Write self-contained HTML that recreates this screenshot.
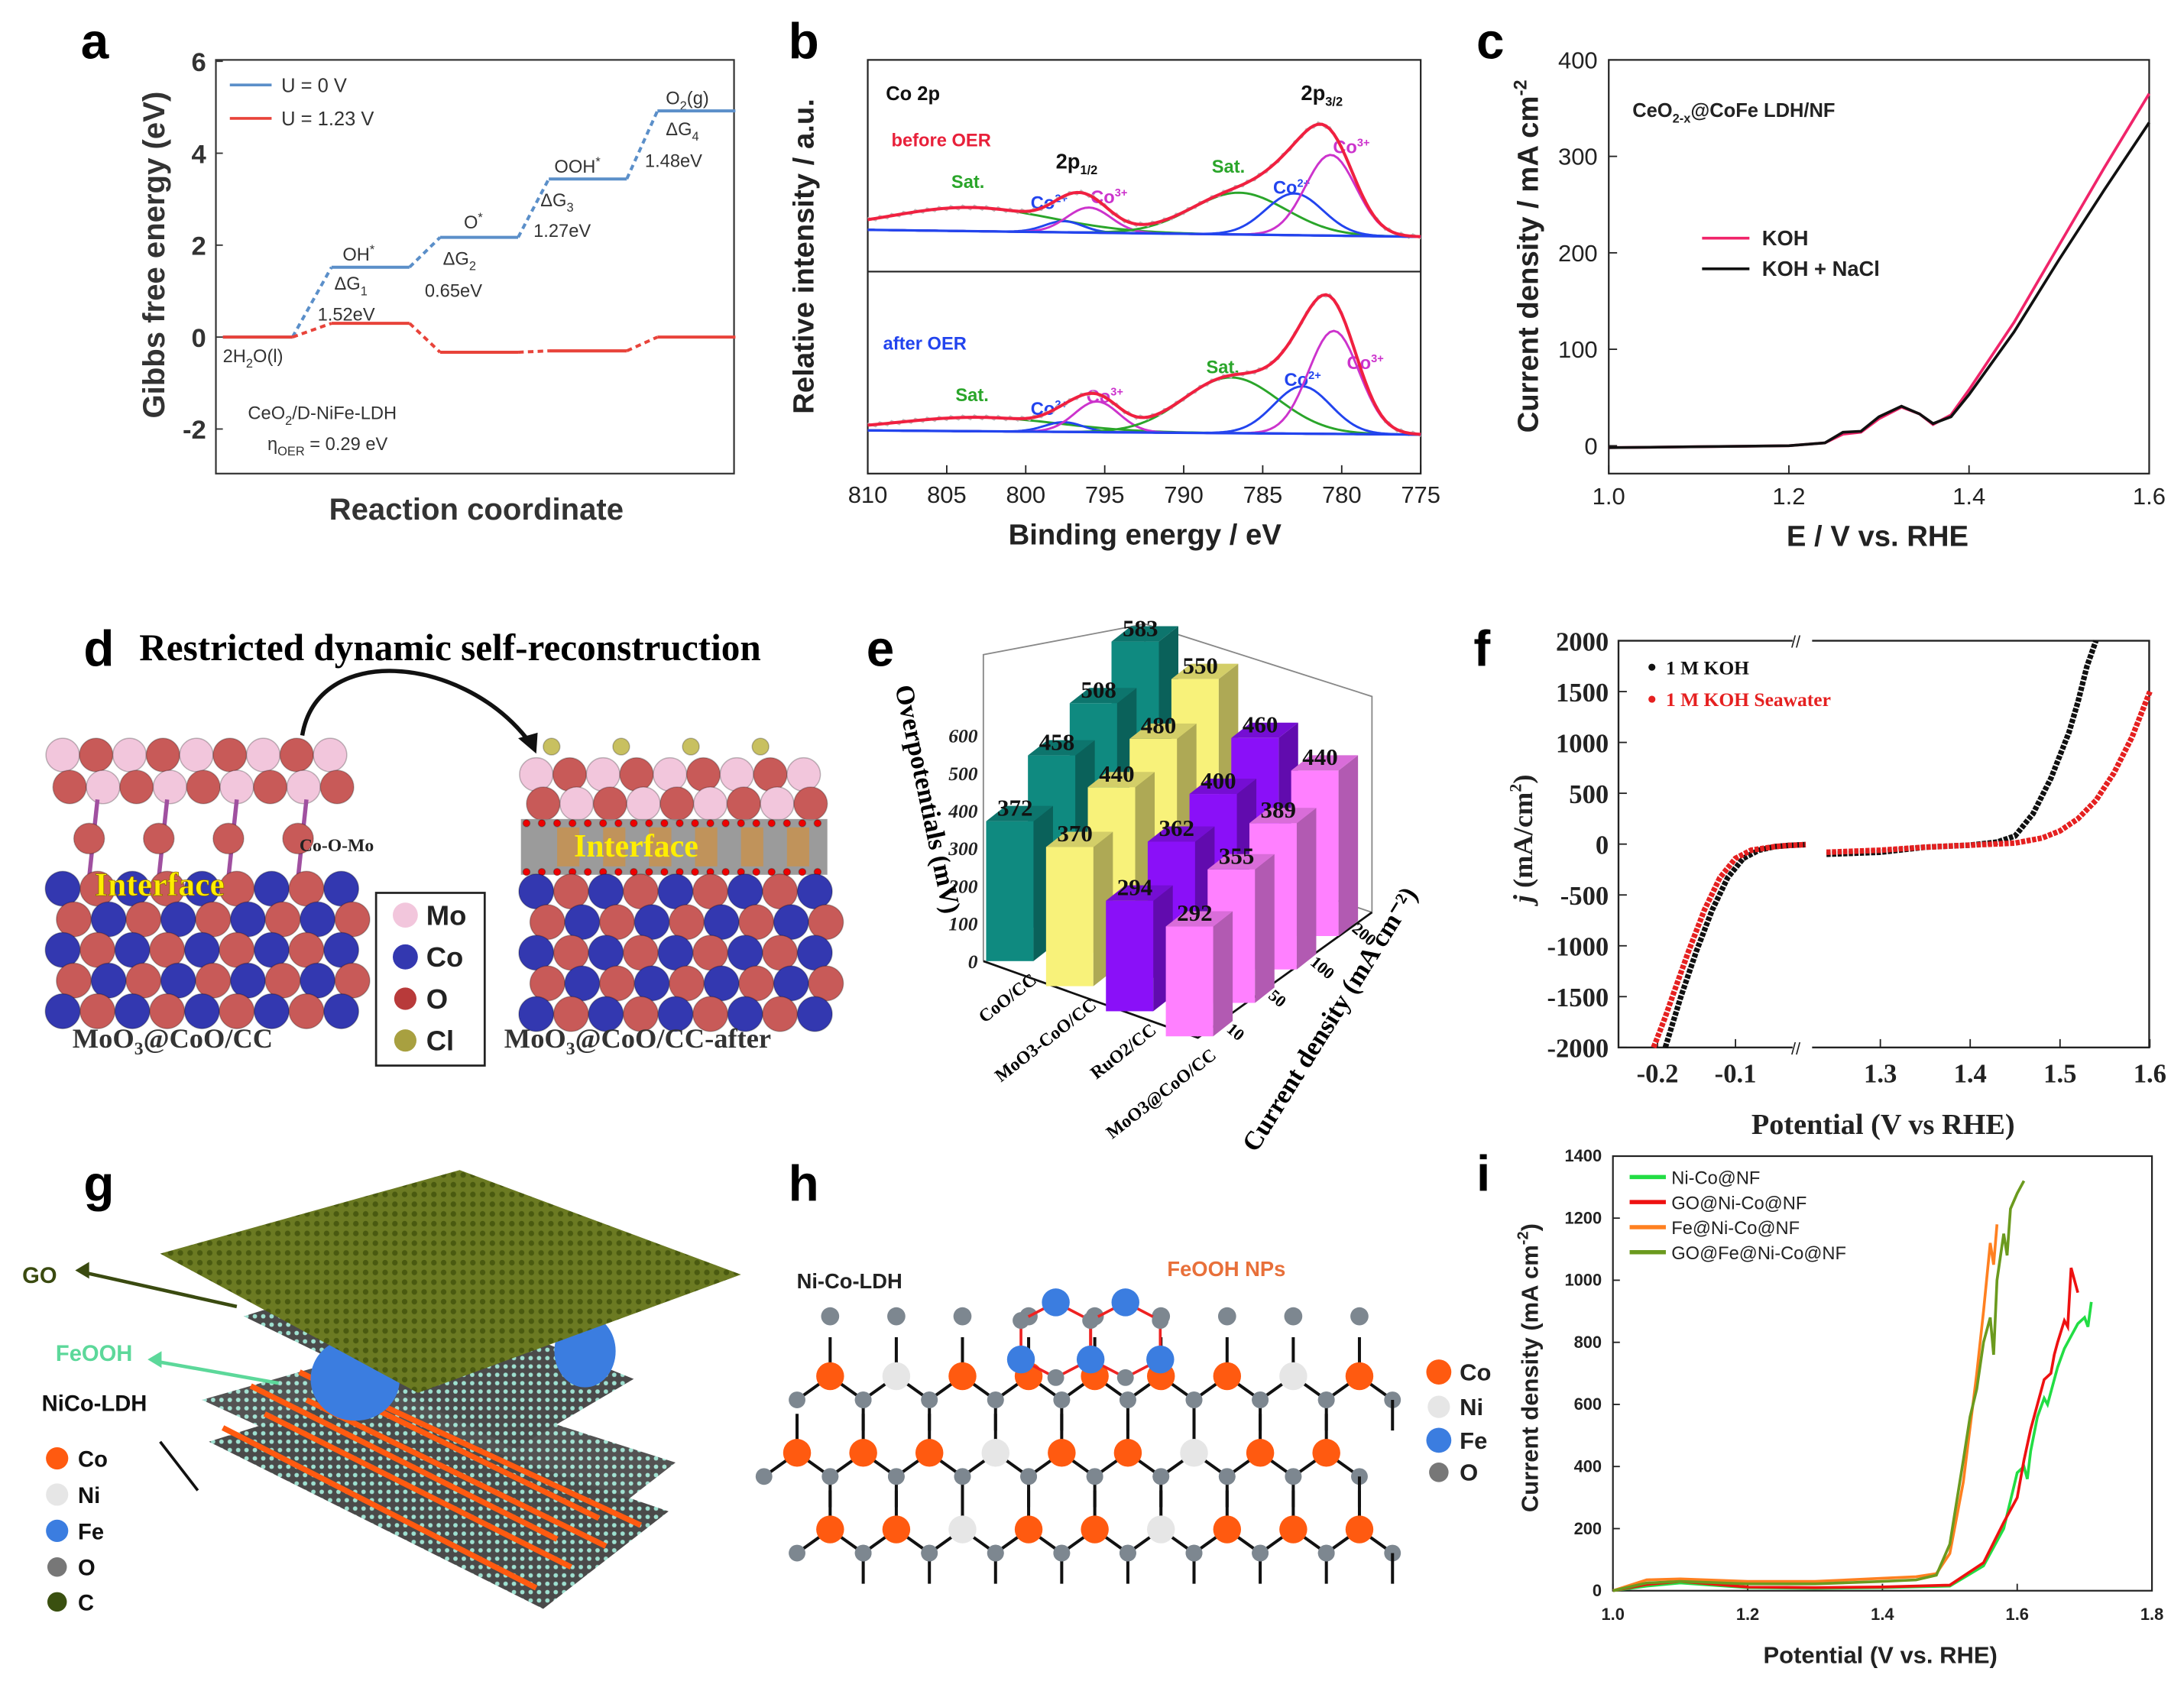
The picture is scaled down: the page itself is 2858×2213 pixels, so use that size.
<!DOCTYPE html>
<html><head><meta charset="utf-8"><style>
html,body{margin:0;padding:0;background:#fff}
svg{display:block}
text{font-family:"Liberation Sans",sans-serif}
.serif{font-family:"Liberation Serif",serif}
.lbl{font-size:36px;font-weight:bold}
</style></head><body>
<svg id="fig" width="2858" height="2213" viewBox="0 0 1568 1214" preserveAspectRatio="none" xmlns="http://www.w3.org/2000/svg">
<rect width="1568" height="1214" fill="#fff"/>
<text class="lbl" x="58" y="42">a</text>
<text class="lbl" x="566" y="42">b</text>
<text class="lbl" x="1060" y="42">c</text>
<text class="lbl" x="60" y="478">d</text>
<text class="serif" x="100" y="474" font-size="27" font-weight="bold">Restricted dynamic self-reconstruction</text>
<text class="lbl" x="622" y="478">e</text>
<text class="lbl" x="1058" y="478">f</text>
<text class="lbl" x="60" y="862">g</text>
<text class="lbl" x="566" y="862">h</text>
<text class="lbl" x="1060" y="855">i</text>

<g id="pa">
<rect x="155" y="43" width="372" height="297" fill="none" stroke="#333" stroke-width="1.2"/>
<text x="125" y="190" font-size="22" font-weight="bold" fill="#333" transform="rotate(-90 118 190)" text-anchor="middle">Gibbs free energy (eV)</text>
<text x="342" y="373" font-size="22" font-weight="bold" fill="#333" text-anchor="middle">Reaction coordinate</text>
<line x1="165" y1="61" x2="195" y2="61" stroke="#5b8fc9" stroke-width="2"/>
<text x="202" y="66" font-size="14" fill="#333">U = 0 V</text>
<line x1="165" y1="85" x2="195" y2="85" stroke="#e8433a" stroke-width="2"/>
<text x="202" y="90" font-size="14" fill="#333">U = 1.23 V</text>
<g font-size="13" fill="#333">
<text x="246" y="187">OH<tspan font-size="9" dy="-5">*</tspan></text>
<text x="240" y="208">ΔG<tspan font-size="9" dy="4">1</tspan></text>
<text x="228" y="230">1.52eV</text>
<text x="333" y="164">O<tspan font-size="9" dy="-5">*</tspan></text>
<text x="318" y="190">ΔG<tspan font-size="9" dy="4">2</tspan></text>
<text x="305" y="213">0.65eV</text>
<text x="398" y="124">OOH<tspan font-size="9" dy="-5">*</tspan></text>
<text x="388" y="148">ΔG<tspan font-size="9" dy="4">3</tspan></text>
<text x="383" y="170">1.27eV</text>
<text x="478" y="75">O<tspan font-size="9" dy="4">2</tspan><tspan dy="-4">(g)</tspan></text>
<text x="478" y="97">ΔG<tspan font-size="9" dy="4">4</tspan></text>
<text x="463" y="120">1.48eV</text>
<text x="160" y="260">2H<tspan font-size="9" dy="4">2</tspan><tspan dy="-4">O(l)</tspan></text>
<text x="178" y="301">CeO<tspan font-size="9" dy="4">2</tspan><tspan dy="-4">/D-NiFe-LDH</tspan></text>
<text x="192" y="323">η<tspan font-size="9" dy="4">OER</tspan><tspan dy="-4"> = 0.29 eV</tspan></text>
</g>
</g>

<g id="pb">
<rect x="623" y="43" width="397" height="297" fill="none" stroke="#222" stroke-width="1.2"/>
<line x1="623" y1="195" x2="1020" y2="195" stroke="#222" stroke-width="1.2"/>
<text x="590" y="190" font-size="21" font-weight="bold" fill="#222" transform="rotate(-90 584 190)" text-anchor="middle">Relative intensity / a.u.</text>
<text x="822" y="391" font-size="21" font-weight="bold" fill="#222" text-anchor="middle">Binding energy / eV</text>
<g font-size="13" font-weight="bold">
<text x="636" y="72" fill="#111" font-size="14">Co 2p</text>
<text x="934" y="72" fill="#111" font-size="15">2p<tspan font-size="9" dy="4">3/2</tspan></text>
<text x="640" y="105" fill="#e8203a">before OER</text>
<text x="683" y="135" fill="#2aa52a">Sat.</text>
<text x="758" y="121" fill="#111" font-size="15">2p<tspan font-size="9" dy="4">1/2</tspan></text>
<text x="740" y="150" fill="#2244ee">Co<tspan font-size="8" dy="-5">2+</tspan></text>
<text x="783" y="146" fill="#cc33cc">Co<tspan font-size="8" dy="-5">3+</tspan></text>
<text x="870" y="124" fill="#2aa52a">Sat.</text>
<text x="914" y="139" fill="#2244ee">Co<tspan font-size="8" dy="-5">2+</tspan></text>
<text x="957" y="110" fill="#cc33cc">Co<tspan font-size="8" dy="-5">3+</tspan></text>
<text x="634" y="251" fill="#2244ee">after OER</text>
<text x="686" y="288" fill="#2aa52a">Sat.</text>
<text x="740" y="298" fill="#2244ee">Co<tspan font-size="8" dy="-5">2+</tspan></text>
<text x="780" y="289" fill="#cc33cc">Co<tspan font-size="8" dy="-5">3+</tspan></text>
<text x="866" y="268" fill="#2aa52a">Sat.</text>
<text x="922" y="277" fill="#2244ee">Co<tspan font-size="8" dy="-5">2+</tspan></text>
<text x="967" y="265" fill="#cc33cc">Co<tspan font-size="8" dy="-5">3+</tspan></text>
</g>
</g>

<g id="pc">
<rect x="1155" y="43" width="388" height="297" fill="none" stroke="#222" stroke-width="1.2"/>
<text x="1110" y="190" font-size="21" font-weight="bold" fill="#222" transform="rotate(-90 1104 190)" text-anchor="middle">Current density / mA cm<tspan font-size="13" dy="-8">-2</tspan></text>
<text x="1348" y="392" font-size="21" font-weight="bold" fill="#222" text-anchor="middle">E / V vs. RHE</text>
<text x="1172" y="84" font-size="14" font-weight="bold" fill="#222">CeO<tspan font-size="9" dy="4">2-x</tspan><tspan dy="-4">@CoFe LDH/NF</tspan></text>
<line x1="1222" y1="171" x2="1256" y2="171" stroke="#f0246a" stroke-width="2"/>
<text x="1265" y="176" font-size="15" font-weight="bold" fill="#222">KOH</text>
<line x1="1222" y1="193" x2="1256" y2="193" stroke="#111" stroke-width="2"/>
<text x="1265" y="198" font-size="15" font-weight="bold" fill="#222">KOH + NaCl</text>
</g>

<g id="pd">
<path d="M217,528 C228,462 330,470 378,530" fill="none" stroke="#111" stroke-width="3"/>
<polygon points="372,530 385,541 386,526" fill="#111"/>
<g id="dLeft"></g>
<g id="dRight"></g>
<text class="serif" x="215" y="611" font-size="13" font-weight="bold" fill="#222">Co-O-Mo</text>
<text class="serif" x="68" y="643" font-size="24" font-weight="bold" fill="#ffee00" stroke="#886600" stroke-width="0.4">Interface</text>
<rect x="270" y="641" width="78" height="124" fill="#fff" stroke="#222" stroke-width="1.5"/>
<g class="serif" font-size="20" font-weight="bold" fill="#222">
<circle cx="291" cy="657" r="9" fill="#f2c6dc"/><text x="306" y="664">Mo</text>
<circle cx="291" cy="687" r="9" fill="#3338b0"/><text x="306" y="694">Co</text>
<circle cx="291" cy="717" r="8" fill="#b83a3a"/><text x="306" y="724">O</text>
<circle cx="291" cy="747" r="8" fill="#a8a040"/><text x="306" y="754">Cl</text>
</g>
<text class="serif" x="52" y="752" font-size="20" font-weight="bold" fill="#333">MoO<tspan font-size="13" dy="5">3</tspan><tspan dy="-5">@CoO/CC</tspan></text>
<text class="serif" x="362" y="752" font-size="20" font-weight="bold" fill="#333">MoO<tspan font-size="13" dy="5">3</tspan><tspan dy="-5">@CoO/CC-after</tspan></text>
</g>

<g id="pe"></g>

<g id="pf">
<rect x="1162" y="460" width="381" height="292" fill="none" stroke="#222" stroke-width="1.3"/>
<rect x="1287" y="455" width="14" height="10" fill="#fff"/><rect x="1287" y="747" width="14" height="10" fill="#fff"/>
<text x="1286" y="465" font-size="12" fill="#222">//</text>
<text x="1286" y="757" font-size="12" fill="#222">//</text>
<text class="serif" x="1104" y="606" font-size="20" font-weight="bold" fill="#222" transform="rotate(-90 1100 606)" text-anchor="middle"><tspan font-style="italic">j</tspan> (mA/cm<tspan font-size="12" dy="-8">2</tspan><tspan dy="8">)</tspan></text>
<text class="serif" x="1352" y="814" font-size="21" font-weight="bold" fill="#222" text-anchor="middle">Potential (V vs RHE)</text>
<circle cx="1186" cy="479" r="2.5" fill="#111"/>
<text class="serif" x="1196" y="484" font-size="14" font-weight="bold" fill="#111">1 M KOH</text>
<circle cx="1186" cy="502" r="2.5" fill="#e52020"/>
<text class="serif" x="1196" y="507" font-size="14" font-weight="bold" fill="#e52020">1 M KOH Seawater</text>
</g>

<g id="pg">
<defs>
<pattern id="grid1" width="6" height="6" patternUnits="userSpaceOnUse"><rect width="6" height="6" fill="#4a4a4a"/><circle cx="3" cy="3" r="1.6" fill="#9ee0d0"/></pattern>
<pattern id="grid2" width="7" height="7" patternUnits="userSpaceOnUse"><rect width="7" height="7" fill="#6b7a22"/><circle cx="3.5" cy="3.5" r="2" fill="#4a5a10"/></pattern>
</defs>
<polygon points="150,1035 245,1005 480,1085 390,1155" fill="url(#grid1)"/>
<polygon points="145,1005 250,975 485,1050 395,1120" fill="url(#grid1)" opacity="0.95"/>
<g stroke="#ff5a10" stroke-width="4">
<line x1="160" y1="1025" x2="385" y2="1140"/><line x1="190" y1="1015" x2="410" y2="1125"/><line x1="220" y1="1005" x2="435" y2="1110"/><line x1="255" y1="1000" x2="460" y2="1095"/><line x1="180" y1="995" x2="400" y2="1105"/><line x1="215" y1="985" x2="430" y2="1090"/>
</g>
<polygon points="175,945 270,915 455,990 370,1040" fill="url(#grid1)"/>
<g fill="#3b7de0">
<ellipse cx="255" cy="990" rx="32" ry="30"/><ellipse cx="420" cy="970" rx="22" ry="26"/>
</g>
<polygon points="115,900 330,840 532,915 300,1000" fill="url(#grid2)"/>
<line x1="170" y1="938" x2="58" y2="913" stroke="#3a4a10" stroke-width="2.5"/>
<polygon points="54,912 64,906 64,918" fill="#3a4a10"/>
<text x="16" y="921" font-size="16" font-weight="bold" fill="#3a4a10">GO</text>
<line x1="200" y1="993" x2="110" y2="977" stroke="#5cd89a" stroke-width="2.5"/>
<polygon points="106,976 116,970 116,982" fill="#5cd89a"/>
<text x="40" y="977" font-size="16" font-weight="bold" fill="#5cd89a">FeOOH</text>
<text x="30" y="1013" font-size="16" font-weight="bold" fill="#111">NiCo-LDH</text>
<line x1="142" y1="1070" x2="115" y2="1035" stroke="#111" stroke-width="2"/>
<g font-size="16" font-weight="bold" fill="#111">
<circle cx="41" cy="1047" r="8" fill="#ff5a10"/><text x="56" y="1053">Co</text>
<circle cx="41" cy="1073" r="8" fill="#e6e6e6"/><text x="56" y="1079">Ni</text>
<circle cx="41" cy="1099" r="8" fill="#3b7de0"/><text x="56" y="1105">Fe</text>
<circle cx="41" cy="1125" r="7" fill="#777"/><text x="56" y="1131">O</text>
<circle cx="41" cy="1150" r="7" fill="#3a5010"/><text x="56" y="1156">C</text>
</g>
</g>

<g id="ph">
<g id="hLattice"></g>
<text x="572" y="925" font-size="15" font-weight="bold" fill="#222">Ni-Co-LDH</text>
<text x="838" y="916" font-size="15" font-weight="bold" fill="#e8703a">FeOOH NPs</text>
<g font-size="17" font-weight="bold" fill="#222">
<circle cx="1033" cy="985" r="9" fill="#ff5a10"/><text x="1048" y="991">Co</text>
<circle cx="1033" cy="1010" r="8" fill="#e6e6e6"/><text x="1048" y="1016">Ni</text>
<circle cx="1033" cy="1034" r="9" fill="#3b7de0"/><text x="1048" y="1040">Fe</text>
<circle cx="1033" cy="1057" r="7" fill="#777"/><text x="1048" y="1063">O</text>
</g>
</g>

<g id="pi">
<rect x="1158" y="830" width="387" height="312" fill="none" stroke="#222" stroke-width="1.2"/>
<text x="1108" y="986" font-size="17" font-weight="bold" fill="#222" transform="rotate(-90 1104 986)" text-anchor="middle">Current density (mA cm<tspan font-size="11" dy="-7">-2</tspan><tspan dy="7">)</tspan></text>
<text x="1350" y="1194" font-size="17" font-weight="bold" fill="#222" text-anchor="middle">Potential (V vs. RHE)</text>
</g>

<script>
var NS='http://www.w3.org/2000/svg';
function mk(tag,parent){var e=document.createElementNS(NS,tag);parent.appendChild(e);return e;}
function pts(xs,ys,fx,fy){return xs.map(function(x,i){return fx(x)+','+fy(ys[i]);}).join(' ');}

/* panel a data */
var aSteps=['2H2O','OH*','O*','OOH*','O2'];
var aBlue=[0,1.52,2.17,3.44,4.92];
var aRed=[0,0.3,-0.33,-0.3,0];
var aTicks=[6,4,2,0,-2];
/* panel b data */
var bTicks=[810,805,800,795,790,785,780,775];
var bCentersTop=[803.5,797.6,796.0,786.5,783.0,780.7];
var bHeightsTop=[17,8,18,30,30,58];
var bCentersBot=[803.0,797.6,795.5,787.0,782.5,780.5];
var bHeightsBot=[10,7,22,40,34,74];
var bWidths=[5,1.2,1.4,3,1.8,1.6];
var bColors=['#2aa52a','#2244ee','#cc33cc','#2aa52a','#2244ee','#cc33cc'];
/* panel c data */
var cE=[1.0,1.1,1.2,1.24,1.26,1.28,1.30,1.325,1.345,1.36,1.38,1.40,1.45,1.50,1.55,1.60];
var cKOH=[-2,-1,0,3,12,14,28,40,33,22,32,58,128,208,288,365];
var cNaCl=[-2,-1,0,3,14,15,30,41,33,23,30,53,118,193,265,335];
var cXTicks=[1.0,1.2,1.4,1.6];
var cYTicks=[0,100,200,300,400];
/* panel e data */
var eCatalysts=['CoO/CC','MoO3-CoO/CC','RuO2/CC','MoO3@CoO/CC'];
var eDensities=['10','50','100','200'];
var eVals=[[372,458,508,583],[370,440,480,550],[294,362,400,460],[292,355,389,440]];
var eColors=['#0f8a80','#f8f27a','#8a10f8','#ff80ff'];
var eYTicks=[0,100,200,300,400,500,600];
/* panel f data */
var fVKohL=[-0.19,-0.18,-0.17,-0.15,-0.13,-0.11,-0.09,-0.07,-0.05,-0.03,-0.01];
var fJKohL=[-2000,-1750,-1500,-1050,-650,-330,-140,-60,-25,-12,-5];
var fVSeaL=[-0.205,-0.19,-0.18,-0.16,-0.14,-0.12,-0.10,-0.08,-0.05,-0.03,-0.01];
var fJSeaL=[-2000,-1700,-1480,-1050,-650,-330,-140,-60,-25,-12,-5];
var fVKohR=[1.24,1.3,1.35,1.4,1.43,1.45,1.47,1.49,1.51,1.52,1.53,1.54];
var fJKohR=[-100,-80,-30,-10,20,80,300,650,1100,1400,1750,2000];
var fVSeaR=[1.24,1.3,1.35,1.4,1.45,1.48,1.5,1.52,1.54,1.56,1.58,1.6];
var fJSeaR=[-80,-60,-30,-10,10,60,130,250,430,700,1050,1500];
var fYTicks=[2000,1500,1000,500,0,-500,-1000,-1500,-2000];
var fXTicksL=[-0.2,-0.1];
var fXTicksR=[1.3,1.4,1.5,1.6];
/* panel i data */
var iNames=['Ni-Co@NF','GO@Ni-Co@NF','Fe@Ni-Co@NF','GO@Fe@Ni-Co@NF'];
var iV1=[1.0,1.05,1.1,1.2,1.3,1.4,1.5,1.55,1.58,1.6,1.61,1.615,1.62,1.63,1.64,1.645,1.65,1.66,1.67,1.68,1.69,1.7,1.705,1.71];
var iJ1=[0,15,25,10,8,10,15,80,200,380,400,360,450,560,620,600,640,720,780,820,860,880,850,930];
var iV2=[1.0,1.05,1.1,1.2,1.3,1.4,1.5,1.55,1.58,1.6,1.61,1.62,1.63,1.64,1.65,1.655,1.66,1.67,1.675,1.68,1.69];
var iJ2=[0,20,30,12,10,12,18,90,220,300,420,520,600,680,700,760,800,870,850,1040,960];
var iV3=[1.0,1.05,1.1,1.2,1.3,1.4,1.45,1.48,1.5,1.52,1.54,1.55,1.56,1.565,1.57];
var iJ3=[0,35,38,30,30,40,45,55,120,350,700,900,1120,1050,1180];
var iV4=[1.0,1.05,1.1,1.2,1.3,1.4,1.45,1.48,1.5,1.52,1.53,1.54,1.55,1.56,1.565,1.57,1.58,1.585,1.59,1.6,1.61];
var iJ4=[0,25,30,22,22,30,35,50,150,420,560,650,800,880,760,1000,1150,1080,1230,1280,1320];
var iColors=['#22dd44','#ee1111','#ff8020','#6b9a1e'];
var iXTicks=[1.0,1.2,1.4,1.6,1.8];
var iYTicks=[0,200,400,600,800,1000,1200,1400];

(function(){
var g=document.getElementById('pa');
function ya(v){return 242-33*v;}
function xa(i){return 160+i*78;}
aTicks.forEach(function(t){
 var tk=mk('line',g);tk.setAttribute('x1',155);tk.setAttribute('x2',160);tk.setAttribute('y1',ya(t));tk.setAttribute('y2',ya(t));tk.setAttribute('stroke','#333');
 
 
 var tx=mk('text',g);tx.setAttribute('x',148);tx.setAttribute('y',ya(t)+7);tx.setAttribute('text-anchor','end');tx.setAttribute('font-size','19');tx.setAttribute('font-weight','bold');tx.setAttribute('fill','#333');tx.textContent=t;
 
 
});
[[aBlue,'#5b8fc9','blue'],[aRed,'#e8433a','red']].forEach(function(s){
 var vals=s[0];
 vals.forEach(function(v,i){
  var l=mk('line',g);l.setAttribute('x1',xa(i));l.setAttribute('x2',xa(i)+(i==0?50:56));l.setAttribute('y1',ya(v));l.setAttribute('y2',ya(v));l.setAttribute('stroke',s[1]);l.setAttribute('stroke-width',2.2);
  
  
  if(i>0){var d=mk('line',g);d.setAttribute('x1',xa(i-1)+(i==1?50:56));d.setAttribute('y1',ya(vals[i-1]));d.setAttribute('x2',xa(i));d.setAttribute('y2',ya(v));d.setAttribute('stroke',s[1]);d.setAttribute('stroke-width',2.2);d.setAttribute('stroke-dasharray','4 3');
  
  }
 });
});
})();

(function(){
var g=document.getElementById('pb');
function xb(e){return 623+(810-e)*397/35;}
function gauss(e,c,w){return Math.exp(-0.5*(e-c)*(e-c)/(w*w));}
bTicks.forEach(function(t){
 var tk=mk('line',g);tk.setAttribute('x1',xb(t));tk.setAttribute('x2',xb(t));tk.setAttribute('y1',340);tk.setAttribute('y2',334);tk.setAttribute('stroke','#222');
 
 
 var tx=mk('text',g);tx.setAttribute('x',xb(t));tx.setAttribute('y',361);tx.setAttribute('text-anchor','middle');tx.setAttribute('font-size','17');tx.setAttribute('fill','#222');tx.textContent=t;
 
 
});
function sub(centers,heights,b0,b1,tag){
 function base(e){return b0+(b1-b0)*(810-e)/35;}
 var es=[];for(var e=810;e>=775;e-=0.25)es.push(e);
 var env=es.map(function(){return 0;});
 centers.forEach(function(c,k){
  var p=es.map(function(e,n){var v=heights[k]*gauss(e,c,bWidths[k]);env[n]+=v;return xb(e)+','+(base(e)-v);}).join(' ');
  var pl=mk('polyline',g);pl.setAttribute('points',p);pl.setAttribute('fill','none');pl.setAttribute('stroke',bColors[k]);pl.setAttribute('stroke-width',1.6);
  
  
 });
 var gp=es.map(function(e,n){return xb(e)+','+(base(e)-env[n]+(n%3-1)*1.5);}).join(' ');
 var gr=mk('polyline',g);gr.setAttribute('points',gp);gr.setAttribute('fill','none');gr.setAttribute('stroke','#bbb');gr.setAttribute('stroke-width',1.2);
 
 
 var bl=mk('line',g);bl.setAttribute('x1',xb(810));bl.setAttribute('x2',xb(775));bl.setAttribute('y1',b0);bl.setAttribute('y2',b1);bl.setAttribute('stroke','#2244ee');bl.setAttribute('stroke-width',1.8);
 
 
 var ep=es.map(function(e,n){return xb(e)+','+(base(e)-env[n]);}).join(' ');
 var en=mk('polyline',g);en.setAttribute('points',ep);en.setAttribute('fill','none');en.setAttribute('stroke','#f02040');en.setAttribute('stroke-width',2.2);
 
 
}
sub(bCentersTop,bHeightsTop,165,170,'before');
sub(bCentersBot,bHeightsBot,309,312,'after');
})();

(function(){
var g=document.getElementById('pc');
function xc(E){return 1155+(E-1)*388/0.6;}
function yc(j){return 320-j*0.6925;}
cXTicks.forEach(function(t){
 var tk=mk('line',g);tk.setAttribute('x1',xc(t));tk.setAttribute('x2',xc(t));tk.setAttribute('y1',340);tk.setAttribute('y2',334);tk.setAttribute('stroke','#222');
 
 
 var tx=mk('text',g);tx.setAttribute('x',xc(t));tx.setAttribute('y',362);tx.setAttribute('text-anchor','middle');tx.setAttribute('font-size','17');tx.setAttribute('fill','#222');tx.textContent=t.toFixed(1);
 
 
});
cYTicks.forEach(function(t){
 var tk=mk('line',g);tk.setAttribute('x1',1155);tk.setAttribute('x2',1161);tk.setAttribute('y1',yc(t));tk.setAttribute('y2',yc(t));tk.setAttribute('stroke','#222');
 
 
 var tx=mk('text',g);tx.setAttribute('x',1147);tx.setAttribute('y',yc(t)+6);tx.setAttribute('text-anchor','end');tx.setAttribute('font-size','17');tx.setAttribute('fill','#222');tx.textContent=t;
 
 
});
var l1=mk('polyline',g);l1.setAttribute('points',pts(cE,cKOH,xc,yc));l1.setAttribute('fill','none');l1.setAttribute('stroke','#f0246a');l1.setAttribute('stroke-width',2);


var l2=mk('polyline',g);l2.setAttribute('points',pts(cE,cNaCl,xc,yc));l2.setAttribute('fill','none');l2.setAttribute('stroke','#111');l2.setAttribute('stroke-width',2);


})();

(function(){
function ball(g,x,y,r,c){var b=mk('circle',g);b.setAttribute('cx',x);b.setAttribute('cy',y);b.setAttribute('r',r);b.setAttribute('fill',c);b.setAttribute('stroke','rgba(0,0,0,0.25)');b.setAttribute('stroke-width',0.8);
 
 }
var L=document.getElementById('dLeft'),R=document.getElementById('dRight');
var i,k;
for(k=0;k<2;k++)for(i=0;i<9;i++)ball(L,45+i*24+(k?5:0),542+k*23,12,(i+k)%2?'#c85a58':'#f2c6dc');
for(i=0;i<4;i++){var st=mk('line',L);st.setAttribute('x1',70+i*50);st.setAttribute('y1',574);st.setAttribute('x2',64+i*50);st.setAttribute('y2',630);st.setAttribute('stroke','#a050a0');st.setAttribute('stroke-width',3);
 
 
 ball(L,64+i*50,602,11,'#c85a58');}
for(k=0;k<5;k++)for(i=0;i<9;i++)ball(L,45+i*25+(k%2?8:0),638+k*22,12.5,(i+k)%2?'#c85a58':'#3338b0');
for(i=0;i<4;i++)ball(R,396+i*50,536,6,'#c8c060');
for(k=0;k<2;k++)for(i=0;i<9;i++)ball(R,385+i*24+(k?5:0),556+k*21,12,(i+k)%2?'#c85a58':'#f2c6dc');
var rr=mk('rect',R);rr.setAttribute('x',374);rr.setAttribute('y',588);rr.setAttribute('width',220);rr.setAttribute('height',40);rr.setAttribute('fill','#8a8a8a');rr.setAttribute('opacity',0.85);


for(i=0;i<6;i++){var oo=mk('rect',R);oo.setAttribute('x',400+i*33);oo.setAttribute('y',594);oo.setAttribute('width',16);oo.setAttribute('height',28);oo.setAttribute('fill','#d09040');oo.setAttribute('opacity',0.7);
 
 }
for(i=0;i<20;i++){ball(R,378+i*11,591,2.5,'#e00');ball(R,378+i*11,626,2.5,'#e00');}
var it=mk('text',R);it.setAttribute('x',412);it.setAttribute('y',615);it.setAttribute('font-size','23');it.setAttribute('font-weight','bold');it.setAttribute('fill','#ffee00');it.setAttribute('class','serif');it.textContent='Interface';


for(k=0;k<5;k++)for(i=0;i<9;i++)ball(R,385+i*25+(k%2?8:0),640+k*22,12.5,(i+k)%2?'#c85a58':'#3338b0');
})();

(function(){
var g=document.getElementById('pe');
var sc=0.27;
function bx(i,j){return 708+i*43+j*30;}
function by(i,j){return 690+i*18-j*24;}
var ax=mk('polyline',g);ax.setAttribute('points','706,690 706,470 822,448 822,600');ax.setAttribute('fill','none');ax.setAttribute('stroke','#888');ax.setAttribute('stroke-width',1);


var ax2=mk('polyline',g);ax2.setAttribute('points','822,448 985,500 985,655 822,600');ax2.setAttribute('fill','none');ax2.setAttribute('stroke','#888');ax2.setAttribute('stroke-width',1);


var ax3=mk('polyline',g);ax3.setAttribute('points','706,690 860,745 985,655');ax3.setAttribute('fill','none');ax3.setAttribute('stroke','#111');ax3.setAttribute('stroke-width',1.5);


eYTicks.forEach(function(t){
 var tx=mk('text',g);tx.setAttribute('x',702);tx.setAttribute('y',690-t*sc+5);tx.setAttribute('text-anchor','end');tx.setAttribute('font-size','14');tx.setAttribute('font-weight','bold');tx.setAttribute('font-style','italic');tx.setAttribute('class','serif');tx.setAttribute('fill','#222');tx.textContent=t;
 
 
});
for(var j=3;j>=0;j--){for(var i=0;i<4;i++){
 var v=eVals[i][j],x=bx(i,j),y=by(i,j),h=v*sc,w=34,dx=14,dy=-11,c=eColors[i];
 var f=mk('rect',g);f.setAttribute('x',x);f.setAttribute('y',y-h);f.setAttribute('width',w);f.setAttribute('height',h);f.setAttribute('fill',c);
 
 
 var s=mk('polygon',g);s.setAttribute('points',[x+w,y,x+w+dx,y+dy,x+w+dx,y+dy-h,x+w,y-h].join(','));s.setAttribute('fill',c);s.setAttribute('style','filter:brightness(0.7)');
 
 
 var t=mk('polygon',g);t.setAttribute('points',[x,y-h,x+dx,y-h+dy,x+w+dx,y-h+dy,x+w,y-h].join(','));t.setAttribute('fill',c);t.setAttribute('style','filter:brightness(0.85)');
 
 
 var lb=mk('text',g);lb.setAttribute('x',x+8);lb.setAttribute('y',y-h-4);lb.setAttribute('font-size','17');lb.setAttribute('font-weight','bold');lb.setAttribute('class','serif');lb.setAttribute('fill','#111');lb.textContent=v;
 
 
}}
var yt=mk('text',g);yt.setAttribute('class','serif');yt.setAttribute('x',660);yt.setAttribute('y',575);yt.setAttribute('font-size','19');yt.setAttribute('font-weight','bold');yt.setAttribute('text-anchor','middle');yt.setAttribute('transform','rotate(78 660 575)');yt.textContent='Overpotentials (mV)';


eCatalysts.forEach(function(c,i){
 var tx=mk('text',g);var X=745+i*43,Y=705+i*18;tx.setAttribute('class','serif');tx.setAttribute('x',X);tx.setAttribute('y',Y);tx.setAttribute('font-size','13');tx.setAttribute('font-weight','bold');tx.setAttribute('text-anchor','end');tx.setAttribute('transform','rotate(-38 '+X+' '+Y+')');tx.textContent=c;
 
 
});
eDensities.forEach(function(d,j){
 var tx=mk('text',g);var X=880+j*30,Y=740-j*24;tx.setAttribute('class','serif');tx.setAttribute('x',X);tx.setAttribute('y',Y);tx.setAttribute('font-size','12');tx.setAttribute('font-weight','bold');tx.setAttribute('transform','rotate(40 '+X+' '+Y+')');tx.textContent=d;
 
 
});
var xt=mk('text',g);xt.setAttribute('class','serif');xt.setAttribute('x',960);xt.setAttribute('y',735);xt.setAttribute('font-size','19');xt.setAttribute('font-weight','bold');xt.setAttribute('text-anchor','middle');xt.setAttribute('transform','rotate(-58 960 735)');xt.textContent='Current density (mA cm⁻²)';


})();

(function(){
var g=document.getElementById('pf');
function yf(j){return 606-j*0.073;}
function xl(v){return 1190+(v+0.2)*560;}
function xr(v){return 1350+(v-1.3)*645;}
fYTicks.forEach(function(t){
 var tk=mk('line',g);tk.setAttribute('x1',1162);tk.setAttribute('x2',1168);tk.setAttribute('y1',yf(t));tk.setAttribute('y2',yf(t));tk.setAttribute('stroke','#222');
 
 
 var tx=mk('text',g);tx.setAttribute('class','serif');tx.setAttribute('x',1155);tx.setAttribute('y',yf(t)+7);tx.setAttribute('text-anchor','end');tx.setAttribute('font-size','19');tx.setAttribute('font-weight','bold');tx.setAttribute('fill','#222');tx.textContent=t;
 
 
});
fXTicksL.map(function(t){return [t,xl(t)];}).concat(fXTicksR.map(function(t){return [t,xr(t)];})).forEach(function(p){
 var tk=mk('line',g);tk.setAttribute('x1',p[1]);tk.setAttribute('x2',p[1]);tk.setAttribute('y1',752);tk.setAttribute('y2',746);tk.setAttribute('stroke','#222');
 
 
 var tx=mk('text',g);tx.setAttribute('class','serif');tx.setAttribute('x',p[1]);tx.setAttribute('y',777);tx.setAttribute('text-anchor','middle');tx.setAttribute('font-size','19');tx.setAttribute('font-weight','bold');tx.setAttribute('fill','#222');tx.textContent=p[0];
 
 
});
[[fVKohL,fJKohL,xl,'#111','koh-cathodic'],[fVSeaL,fJSeaL,xl,'#e52020','seawater-cathodic'],[fVKohR,fJKohR,xr,'#111','koh-anodic'],[fVSeaR,fJSeaR,xr,'#e52020','seawater-anodic']].forEach(function(s){
 var pl=mk('polyline',g);pl.setAttribute('points',pts(s[0],s[1],s[2],yf));pl.setAttribute('fill','none');pl.setAttribute('stroke',s[3]);pl.setAttribute('stroke-width',4);pl.setAttribute('stroke-dasharray','3 1');
 
 
});
})();

(function(){
var g=document.getElementById('hLattice');
var i,r;
var metalPat=[['c','n','c','c','c','c','c','n','c','c'],['c','c','c','n','c','c','n','c','c','c'],['c','c','n','c','c','n','c','c','c','c']];
var col={c:'#ff5a10',n:'#e6e6e6'};
function line(x1,y1,x2,y2,c){var l=mk('line',g);l.setAttribute('x1',x1);l.setAttribute('y1',y1);l.setAttribute('x2',x2);l.setAttribute('y2',y2);l.setAttribute('stroke',c||'#111');l.setAttribute('stroke-width',2.2);
 
 }
function ball(x,y,rr,c){var b=mk('circle',g);b.setAttribute('cx',x);b.setAttribute('cy',y);b.setAttribute('r',rr);b.setAttribute('fill',c);
 
 }
var rows=[988,1043,1098];
for(r=0;r<3;r++){for(i=0;i<9;i++){var mx=596+i*47.5-(r%2?23.75:0);
  line(mx,rows[r],mx-23.75,rows[r]+17);line(mx,rows[r],mx+23.75,rows[r]+17);line(mx,rows[r],mx,rows[r]-28);}}
for(r=0;r<3;r++){for(i=0;i<9;i++){var mx3=596+i*47.5-(r%2?23.75:0);
 ball(mx3-23.75,rows[r]+17,6,'#7d8790');ball(mx3+23.75,rows[r]+17,6,'#7d8790');
 line(mx3+23.75,rows[r]+17,mx3+23.75,rows[r]+17+22);}}
for(r=0;r<3;r++){for(i=0;i<9;i++){var mx4=596+i*47.5-(r%2?23.75:0);ball(mx4,rows[r],10,col[metalPat[r][i]]);}}
for(i=0;i<9;i++){ball(596+i*47.5,945,6.5,'#7d8790');}
var hp=mk('polyline',g);hp.setAttribute('points','733,948 758,935 783,948 808,935 833,948 833,976 808,989 783,976 758,989 733,976 733,948');hp.setAttribute('fill','none');hp.setAttribute('stroke','#ee2222');hp.setAttribute('stroke-width',2);


line(783,948,783,976,'#ee2222');
[[758,935],[808,935],[733,976],[783,976],[833,976]].forEach(function(p){ball(p[0],p[1],10,'#3b7de0');});
[[733,948],[783,948],[833,948],[758,989],[808,989]].forEach(function(p){ball(p[0],p[1],6,'#7d8790');});
})();

(function(){
var g=document.getElementById('pi');
function xi(v){return 1158+(v-1)*483.75;}
function yi(j){return 1142-j*0.2229;}
iXTicks.forEach(function(t){
 var tk=mk('line',g);tk.setAttribute('x1',xi(t));tk.setAttribute('x2',xi(t));tk.setAttribute('y1',1142);tk.setAttribute('y2',1137);tk.setAttribute('stroke','#222');
 
 
 var tx=mk('text',g);tx.setAttribute('x',xi(t));tx.setAttribute('y',1163);tx.setAttribute('text-anchor','middle');tx.setAttribute('font-size','12');tx.setAttribute('font-weight','bold');tx.setAttribute('fill','#222');tx.textContent=t.toFixed(1);
 
 
});
iYTicks.forEach(function(t){
 var tk=mk('line',g);tk.setAttribute('x1',1158);tk.setAttribute('x2',1163);tk.setAttribute('y1',yi(t));tk.setAttribute('y2',yi(t));tk.setAttribute('stroke','#222');
 
 
 var tx=mk('text',g);tx.setAttribute('x',1150);tx.setAttribute('y',yi(t)+4);tx.setAttribute('text-anchor','end');tx.setAttribute('font-size','12');tx.setAttribute('font-weight','bold');tx.setAttribute('fill','#222');tx.textContent=t;
 
 
});
var series=[[iV1,iJ1],[iV2,iJ2],[iV3,iJ3],[iV4,iJ4]];
series.forEach(function(s,k){
 var pl=mk('polyline',g);pl.setAttribute('points',pts(s[0],s[1],xi,yi));pl.setAttribute('fill','none');pl.setAttribute('stroke',iColors[k]);pl.setAttribute('stroke-width',2);
 
 
 var ll=mk('line',g);ll.setAttribute('x1',1170);ll.setAttribute('x2',1196);ll.setAttribute('y1',845+k*18);ll.setAttribute('y2',845+k*18);ll.setAttribute('stroke',iColors[k]);ll.setAttribute('stroke-width',3);
 
 
 var lt=mk('text',g);lt.setAttribute('x',1200);lt.setAttribute('y',850+k*18);lt.setAttribute('font-size','13');lt.setAttribute('fill','#222');lt.textContent=iNames[k];
 
 
});
})();
</script>
</svg>
</body></html>
